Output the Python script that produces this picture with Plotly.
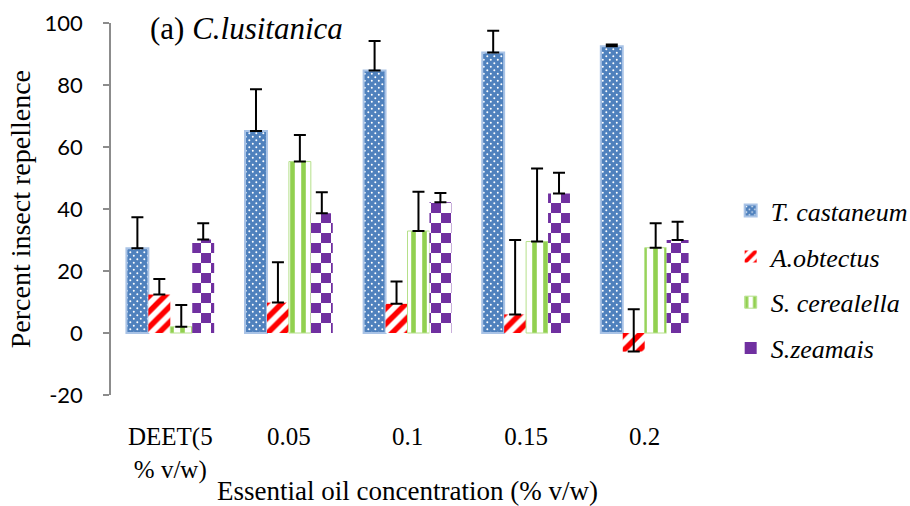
import plotly.graph_objects as go

# Repellence data (% insect repellence) by treatment
categories = ["DEET(5<br>% v/w)", "0.05", "0.1", "0.15", "0.2"]
species = ["T. castaneum", "A.obtectus", "S. cerealella", "S.zeamais"]

t_castaneum = [27.3, 65.2, 84.7, 90.5, 92.5]
t_castaneum_err = [10.0, 13.4, 9.5, 7.0, 0.6]
a_obtectus = [12.4, 9.8, 9.4, 6.0, -6.0]
a_obtectus_err = [5.0, 13.0, 7.2, 24.0, 13.7]
s_cerealella = [2.0, 55.3, 32.9, 29.5, 27.5]
s_cerealella_err = [7.0, 8.6, 12.7, 23.6, 7.9]
s_zeamais = [30.2, 38.6, 42.2, 45.0, 30.0]
s_zeamais_err = [5.2, 6.8, 3.0, 6.7, 5.9]

y_ticks = [-20, 0, 20, 40, 60, 80, 100]
y_tick_text = ["-20", "0", "20", "40", "60", "80", "100"]

values = [t_castaneum, a_obtectus, s_cerealella, s_zeamais]
errors = [t_castaneum_err, a_obtectus_err, s_cerealella_err, s_zeamais_err]

SERIF = "Liberation Serif"
AXIS_GREY = "#8c8c8c"

# fill styles for each series
dots = ("M0.8,1.8a1,1 0 1,0 2,0a1,1 0 1,0 -2,0Z "
        "M4.3,5.3a1,1 0 1,0 2,0a1,1 0 1,0 -2,0Z")
checker = "M0,0H10V10H0Z M10,10H20V20H10Z"
styles = [
    dict(color="#4f81bd", line=dict(color="#a9c3e6", width=2),
         pattern=dict(path=dots, size=7, fgcolor="#ffffff", bgcolor="#4f81bd",
                      fillmode="replace")),
    dict(color="#ff0000", line=dict(width=0),
         pattern=dict(shape="/", size=11, solidity=0.5, fgcolor="#ff0000",
                      bgcolor="#ffffff", fillmode="replace")),
    dict(color="#92d050", line=dict(color="#b5e08a", width=1),
         pattern=dict(shape="|", size=11, solidity=0.42, fgcolor="#92d050",
                      bgcolor="#ffffff", fillmode="replace")),
    dict(color="#7030a0", line=dict(width=0),
         pattern=dict(path=checker, size=20, fgcolor="#7030a0",
                      bgcolor="#ffffff", fillmode="replace")),
]

fig = go.Figure()
for i, name in enumerate(species):
    fig.add_trace(go.Bar(
        x=categories, y=values[i], name="<i>" + name + "</i>",
        legendgroup=name,
        marker=styles[i],
        error_y=dict(type="data", symmetric=False, array=errors[i],
                     arrayminus=[0] * len(categories),
                     color="black", thickness=2, width=6),
    ))

ymin, ymax = -20, 100
zero_pos = (0 - ymin) / (ymax - ymin)

fig.update_layout(
    width=910, height=506,
    margin=dict(l=111, r=206, t=23, b=111, autoexpand=False),
    paper_bgcolor="white", plot_bgcolor="white",
    barmode="group", bargap=0.26, bargroupgap=0,
    showlegend=True,
    legend=dict(
        x=1.045, y=0.31, xanchor="left", yanchor="middle",
        traceorder="grouped", tracegroupgap=9,
        font=dict(family=SERIF, size=26, color="black"),
        bgcolor="rgba(0,0,0,0)",
    ),
    xaxis=dict(
        type="category", categoryorder="array", categoryarray=categories,
        showline=False, showgrid=False, zeroline=False,
        ticks="outside", ticklen=19, tickcolor="rgba(0,0,0,0)",
        tickfont=dict(family=SERIF, size=25, color="black"),
    ),
    # the x axis line sits on y = 0, with ticks between categories
    xaxis2=dict(
        overlaying="x", anchor="free", position=zero_pos, side="bottom",
        range=[-0.5, len(categories) - 0.5],
        tickvals=[k - 0.5 for k in range(len(categories) + 1)],
        showticklabels=False, ticks="outside", ticklen=6, tickwidth=1.5,
        tickcolor=AXIS_GREY, showline=True, linecolor=AXIS_GREY, linewidth=1.5,
        showgrid=False, zeroline=False,
    ),
    yaxis=dict(
        range=[ymin, ymax], tickvals=y_ticks, ticktext=y_tick_text,
        ticklabelstandoff=16,
        showline=True, linecolor=AXIS_GREY, linewidth=1.5,
        ticks="outside", ticklen=6, tickwidth=1.5, tickcolor=AXIS_GREY,
        showgrid=False, zeroline=False,
        tickfont=dict(family="Lato", size=22, color="black"),
    ),
    annotations=[
        dict(text="(a) <i>C.lusitanica</i>", xref="paper", yref="paper",
             x=(148 - 111) / 593, y=0.986, xanchor="left", yanchor="middle",
             showarrow=False, font=dict(family=SERIF, size=31, color="black")),
        dict(text="Percent insect repellence", xref="paper", yref="paper",
             x=-0.153, y=0.5, xanchor="center", yanchor="middle",
             textangle=-90, showarrow=False,
             font=dict(family=SERIF, size=28, color="black")),
        dict(text="Essential oil concentration (% v/w)", xref="paper", yref="paper",
             x=0.5, y=-0.258, xanchor="center", yanchor="middle",
             showarrow=False, font=dict(family=SERIF, size=27, color="black")),
    ],
)

fig.write_html("out.html")
